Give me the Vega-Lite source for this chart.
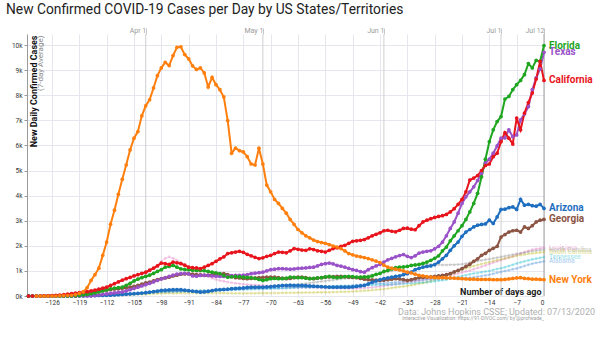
{
"$schema": "https://vega.github.io/schema/vega-lite/v6.json",
"width": 517, "height": 262,
"autosize": "none",
"padding": {"left": 27, "top": 34, "right": 56, "bottom": 50},
"background": "white",
"config": {"view": {"stroke": null}, "font": "Roboto"},
"title": {"text": "New Confirmed COVID-19 Cases per Day by US States/Territories", "anchor": "start", "frame": "group", "dx": -21, "fontSize": 13.8, "font": "Roboto", "fontWeight": "normal", "color": "#222", "offset": 9},
"datasets": {
"months": [{"d":-102,"m":"Apr 1"},{"d":-72,"m":"May 1"},{"d":-41,"m":"Jun 1"},{"d":-11,"m":"Jul 1"},{"d":0,"m":"Jul 12"}],
"names": [{"code":"AZ","name":"Arizona"},{"code":"NY","name":"New York"},{"code":"FL","name":"Florida"},{"code":"CA","name":"California"},{"code":"TX","name":"Texas"},{"code":"GA","name":"Georgia"},{"code":"LA","name":"Louisiana"},{"code":"NC","name":"North Carolina"},{"code":"SC","name":"South Carolina"},{"code":"TN","name":"Tennessee"},{"code":"AL","name":"Alabama"}],
"notes": [{"t":"Data: Johns Hopkins CSSE; Updated: 07/13/2020"}],
"notes2": [{"t":"Interactive Visualization: https://91-DIVOC.com/ by @profwade_"}],
"cases": [
{"d":-132,"AZ":0,"FL":0,"CA":0,"TX":0,"GA":0,"LA":0,"NC":0,"SC":0,"TN":0,"AL":0},
{"d":-131,"AZ":0,"FL":0,"CA":0,"TX":0,"GA":0,"LA":0,"NC":0,"SC":0,"TN":0,"AL":0},
{"d":-130,"AZ":0,"NY":0,"FL":0,"CA":0,"TX":0,"GA":0,"LA":0,"NC":0,"SC":0,"TN":0,"AL":0},
{"d":-129,"AZ":0,"NY":0,"FL":0,"CA":0,"TX":0,"GA":0,"LA":0,"NC":0,"SC":0,"TN":0,"AL":0},
{"d":-128,"AZ":0,"NY":0,"FL":0,"CA":10,"TX":0,"GA":0,"LA":0,"NC":0,"SC":0,"TN":0,"AL":0},
{"d":-127,"AZ":0,"NY":0,"FL":0,"CA":10,"TX":0,"GA":0,"LA":0,"NC":0,"SC":0,"TN":0,"AL":0},
{"d":-126,"AZ":0,"NY":0,"FL":0,"CA":20,"TX":0,"GA":0,"LA":0,"NC":0,"SC":0,"TN":0,"AL":0},
{"d":-125,"AZ":0,"NY":0,"FL":0,"CA":30,"TX":0,"GA":0,"LA":0,"NC":0,"SC":0,"TN":0,"AL":0},
{"d":-124,"AZ":0,"NY":10,"FL":0,"CA":40,"TX":0,"GA":0,"LA":0,"NC":0,"SC":0,"TN":0,"AL":0},
{"d":-123,"AZ":0,"NY":15,"FL":0,"CA":50,"TX":0,"GA":0,"LA":0,"NC":0,"SC":0,"TN":0,"AL":0},
{"d":-122,"AZ":0,"NY":20,"FL":0,"CA":70,"TX":0,"GA":0,"LA":0,"NC":0,"SC":0,"TN":0,"AL":0},
{"d":-121,"AZ":0,"NY":30,"FL":0,"CA":90,"TX":0,"GA":0,"LA":0,"NC":0,"SC":0,"TN":0,"AL":0},
{"d":-120,"AZ":5,"NY":50,"FL":10,"CA":110,"TX":0,"GA":0,"LA":10,"NC":5,"SC":0,"TN":0,"AL":0},
{"d":-119,"AZ":5,"NY":100,"FL":20,"CA":130,"TX":0,"GA":40,"LA":20,"NC":10,"SC":0,"TN":0,"AL":0},
{"d":-118,"AZ":10,"NY":160,"FL":40,"CA":150,"TX":0,"GA":90,"LA":30,"NC":15,"SC":0,"TN":0,"AL":0},
{"d":-117,"AZ":10,"NY":330,"FL":60,"CA":170,"TX":0,"GA":120,"LA":40,"NC":20,"SC":0,"TN":5,"AL":5},
{"d":-116,"AZ":15,"NY":620,"FL":90,"CA":200,"TX":0,"GA":150,"LA":50,"NC":25,"SC":5,"TN":5,"AL":5},
{"d":-115,"AZ":15,"NY":850,"FL":120,"CA":230,"TX":20,"GA":180,"LA":60,"NC":30,"SC":10,"TN":10,"AL":10},
{"d":-114,"AZ":20,"NY":1110,"FL":160,"CA":270,"TX":40,"GA":200,"LA":80,"NC":35,"SC":12,"TN":20,"AL":12},
{"d":-113,"AZ":20,"NY":1620,"FL":200,"CA":310,"TX":60,"GA":220,"LA":100,"NC":40,"SC":15,"TN":30,"AL":15},
{"d":-112,"AZ":25,"NY":2150,"FL":240,"CA":350,"TX":80,"GA":240,"LA":130,"NC":45,"SC":20,"TN":35,"AL":20},
{"d":-111,"AZ":30,"NY":2860,"FL":280,"CA":420,"TX":100,"GA":260,"LA":170,"NC":50,"SC":25,"TN":40,"AL":25},
{"d":-110,"AZ":40,"NY":3420,"FL":310,"CA":490,"TX":120,"GA":280,"LA":210,"NC":55,"SC":30,"TN":50,"AL":30},
{"d":-109,"AZ":50,"NY":4050,"FL":330,"CA":560,"TX":140,"GA":290,"LA":260,"NC":60,"SC":35,"TN":60,"AL":40},
{"d":-108,"AZ":60,"NY":4650,"FL":350,"CA":630,"TX":160,"GA":310,"LA":320,"NC":70,"SC":40,"TN":70,"AL":50},
{"d":-107,"AZ":70,"NY":5220,"FL":420,"CA":690,"TX":200,"GA":330,"LA":390,"NC":80,"SC":45,"TN":80,"AL":60},
{"d":-106,"AZ":80,"NY":5820,"FL":500,"CA":740,"TX":250,"GA":350,"LA":470,"NC":90,"SC":50,"TN":90,"AL":70},
{"d":-105,"AZ":90,"NY":6290,"FL":600,"CA":800,"TX":300,"GA":380,"LA":560,"NC":100,"SC":60,"TN":100,"AL":80},
{"d":-104,"AZ":100,"NY":6550,"FL":670,"CA":850,"TX":350,"GA":420,"LA":660,"NC":110,"SC":65,"TN":110,"AL":95},
{"d":-103,"AZ":115,"NY":7180,"FL":730,"CA":900,"TX":400,"GA":470,"LA":760,"NC":120,"SC":70,"TN":120,"AL":110},
{"d":-102,"AZ":130,"NY":7580,"FL":780,"CA":950,"TX":450,"GA":520,"LA":870,"NC":130,"SC":75,"TN":130,"AL":120},
{"d":-101,"AZ":150,"NY":7820,"FL":830,"CA":1030,"TX":500,"GA":550,"LA":980,"NC":140,"SC":80,"TN":140,"AL":135},
{"d":-100,"AZ":170,"NY":8290,"FL":900,"CA":1110,"TX":560,"GA":600,"LA":1100,"NC":150,"SC":90,"TN":150,"AL":150},
{"d":-99,"AZ":195,"NY":8780,"FL":980,"CA":1200,"TX":620,"GA":650,"LA":1230,"NC":150,"SC":95,"TN":160,"AL":160},
{"d":-98,"AZ":220,"NY":9090,"FL":1050,"CA":1310,"TX":680,"GA":690,"LA":1380,"NC":160,"SC":100,"TN":170,"AL":165},
{"d":-97,"AZ":230,"NY":9310,"FL":1150,"CA":1290,"TX":730,"GA":720,"LA":1500,"NC":160,"SC":105,"TN":175,"AL":170},
{"d":-96,"AZ":240,"NY":9180,"FL":1180,"CA":1260,"TX":780,"GA":750,"LA":1560,"NC":170,"SC":110,"TN":180,"AL":175},
{"d":-95,"AZ":250,"NY":9580,"FL":1220,"CA":1350,"TX":830,"GA":800,"LA":1500,"NC":170,"SC":110,"TN":185,"AL":180},
{"d":-94,"AZ":250,"NY":9910,"FL":1150,"CA":1320,"TX":870,"GA":830,"LA":1420,"NC":180,"SC":115,"TN":190,"AL":185},
{"d":-93,"AZ":250,"NY":9930,"FL":1080,"CA":1290,"TX":890,"GA":870,"LA":1340,"NC":180,"SC":115,"TN":195,"AL":190},
{"d":-92,"AZ":230,"NY":9620,"FL":1060,"CA":1230,"TX":900,"GA":880,"LA":1240,"NC":190,"SC":120,"TN":195,"AL":195},
{"d":-91,"AZ":210,"NY":9450,"FL":1050,"CA":1150,"TX":880,"GA":890,"LA":1150,"NC":190,"SC":120,"TN":200,"AL":200},
{"d":-90,"AZ":190,"NY":9170,"FL":1030,"CA":1130,"TX":800,"GA":870,"LA":1060,"NC":200,"SC":120,"TN":200,"AL":200},
{"d":-89,"AZ":170,"NY":9030,"FL":1020,"CA":1120,"TX":790,"GA":850,"LA":980,"NC":200,"SC":120,"TN":205,"AL":205},
{"d":-88,"AZ":150,"NY":9090,"FL":1020,"CA":1090,"TX":820,"GA":840,"LA":900,"NC":210,"SC":120,"TN":210,"AL":210},
{"d":-87,"AZ":160,"NY":8890,"FL":1010,"CA":1150,"TX":830,"GA":820,"LA":830,"NC":210,"SC":120,"TN":215,"AL":210},
{"d":-86,"AZ":180,"NY":8330,"FL":980,"CA":1220,"TX":820,"GA":830,"LA":770,"NC":220,"SC":120,"TN":220,"AL":215},
{"d":-85,"AZ":210,"NY":8710,"FL":950,"CA":1290,"TX":800,"GA":850,"LA":710,"NC":230,"SC":120,"TN":230,"AL":220},
{"d":-84,"AZ":240,"NY":8420,"FL":920,"CA":1380,"TX":790,"GA":870,"LA":660,"NC":240,"SC":120,"TN":235,"AL":225},
{"d":-83,"AZ":250,"NY":8220,"FL":890,"CA":1480,"TX":780,"GA":880,"LA":620,"NC":250,"SC":115,"TN":240,"AL":230},
{"d":-82,"AZ":260,"NY":7930,"FL":820,"CA":1560,"TX":780,"GA":890,"LA":590,"NC":260,"SC":115,"TN":245,"AL":240},
{"d":-81,"AZ":270,"NY":6990,"FL":750,"CA":1690,"TX":790,"GA":850,"LA":560,"NC":270,"SC":110,"TN":250,"AL":245},
{"d":-80,"AZ":290,"NY":5690,"FL":760,"CA":1720,"TX":810,"GA":780,"LA":530,"NC":280,"SC":110,"TN":250,"AL":250},
{"d":-79,"AZ":300,"NY":5890,"FL":780,"CA":1750,"TX":820,"GA":730,"LA":510,"NC":290,"SC":110,"TN":255,"AL":255},
{"d":-78,"AZ":310,"NY":5790,"FL":770,"CA":1780,"TX":820,"GA":720,"LA":490,"NC":300,"SC":110,"TN":260,"AL":260},
{"d":-77,"AZ":320,"NY":5740,"FL":750,"CA":1740,"TX":830,"GA":700,"LA":470,"NC":310,"SC":110,"TN":265,"AL":265},
{"d":-76,"AZ":340,"NY":5550,"FL":740,"CA":1660,"TX":850,"GA":690,"LA":460,"NC":320,"SC":110,"TN":275,"AL":275},
{"d":-75,"AZ":350,"NY":5260,"FL":730,"CA":1600,"TX":890,"GA":700,"LA":450,"NC":330,"SC":110,"TN":280,"AL":280},
{"d":-74,"AZ":350,"NY":5220,"FL":700,"CA":1540,"TX":910,"GA":720,"LA":440,"NC":340,"SC":110,"TN":285,"AL":285},
{"d":-73,"AZ":350,"NY":5890,"FL":660,"CA":1490,"TX":930,"GA":730,"LA":430,"NC":350,"SC":115,"TN":290,"AL":290},
{"d":-72,"AZ":350,"NY":5260,"FL":620,"CA":1520,"TX":950,"GA":740,"LA":420,"NC":360,"SC":115,"TN":290,"AL":290},
{"d":-71,"AZ":360,"NY":4420,"FL":650,"CA":1580,"TX":1000,"GA":750,"LA":410,"NC":370,"SC":115,"TN":295,"AL":295},
{"d":-70,"AZ":370,"NY":4150,"FL":690,"CA":1620,"TX":1050,"GA":750,"LA":400,"NC":380,"SC":120,"TN":300,"AL":300},
{"d":-69,"AZ":390,"NY":3850,"FL":700,"CA":1690,"TX":1070,"GA":750,"LA":400,"NC":390,"SC":120,"TN":305,"AL":305},
{"d":-68,"AZ":400,"NY":3690,"FL":690,"CA":1750,"TX":1090,"GA":730,"LA":390,"NC":400,"SC":120,"TN":310,"AL":310},
{"d":-67,"AZ":420,"NY":3490,"FL":690,"CA":1740,"TX":1090,"GA":710,"LA":380,"NC":410,"SC":125,"TN":315,"AL":315},
{"d":-66,"AZ":420,"NY":3300,"FL":710,"CA":1720,"TX":1080,"GA":690,"LA":370,"NC":420,"SC":125,"TN":320,"AL":320},
{"d":-65,"AZ":430,"NY":3050,"FL":750,"CA":1800,"TX":1070,"GA":700,"LA":360,"NC":430,"SC":130,"TN":330,"AL":330},
{"d":-64,"AZ":420,"NY":2850,"FL":740,"CA":1890,"TX":1080,"GA":730,"LA":360,"NC":440,"SC":130,"TN":335,"AL":335},
{"d":-63,"AZ":420,"NY":2650,"FL":730,"CA":1860,"TX":1100,"GA":750,"LA":350,"NC":460,"SC":135,"TN":340,"AL":340},
{"d":-62,"AZ":420,"NY":2520,"FL":730,"CA":1830,"TX":1110,"GA":750,"LA":350,"NC":480,"SC":135,"TN":345,"AL":345},
{"d":-61,"AZ":410,"NY":2400,"FL":710,"CA":1820,"TX":1120,"GA":730,"LA":340,"NC":500,"SC":140,"TN":345,"AL":345},
{"d":-60,"AZ":400,"NY":2320,"FL":690,"CA":1880,"TX":1140,"GA":700,"LA":340,"NC":520,"SC":140,"TN":350,"AL":350},
{"d":-59,"AZ":390,"NY":2230,"FL":700,"CA":1850,"TX":1150,"GA":690,"LA":340,"NC":540,"SC":140,"TN":355,"AL":355},
{"d":-58,"AZ":380,"NY":2170,"FL":720,"CA":1800,"TX":1200,"GA":710,"LA":330,"NC":560,"SC":145,"TN":360,"AL":360},
{"d":-57,"AZ":370,"NY":2130,"FL":730,"CA":1780,"TX":1260,"GA":730,"LA":330,"NC":580,"SC":145,"TN":365,"AL":365},
{"d":-56,"AZ":360,"NY":2100,"FL":760,"CA":1750,"TX":1290,"GA":750,"LA":320,"NC":600,"SC":150,"TN":370,"AL":370},
{"d":-55,"AZ":350,"NY":2050,"FL":780,"CA":1820,"TX":1310,"GA":760,"LA":320,"NC":620,"SC":150,"TN":380,"AL":380},
{"d":-54,"AZ":350,"NY":1990,"FL":750,"CA":1890,"TX":1280,"GA":770,"LA":320,"NC":640,"SC":155,"TN":385,"AL":385},
{"d":-53,"AZ":350,"NY":1950,"FL":730,"CA":1920,"TX":1220,"GA":780,"LA":310,"NC":660,"SC":160,"TN":390,"AL":390},
{"d":-52,"AZ":350,"NY":1890,"FL":750,"CA":1980,"TX":1190,"GA":780,"LA":310,"NC":680,"SC":165,"TN":395,"AL":395},
{"d":-51,"AZ":350,"NY":1800,"FL":770,"CA":2020,"TX":1150,"GA":770,"LA":300,"NC":700,"SC":165,"TN":400,"AL":400},
{"d":-50,"AZ":350,"NY":1690,"FL":780,"CA":2100,"TX":1100,"GA":750,"LA":300,"NC":720,"SC":170,"TN":400,"AL":400},
{"d":-49,"AZ":360,"NY":1640,"FL":770,"CA":2180,"TX":1050,"GA":740,"LA":300,"NC":740,"SC":180,"TN":405,"AL":420},
{"d":-48,"AZ":380,"NY":1590,"FL":750,"CA":2200,"TX":1020,"GA":730,"LA":300,"NC":760,"SC":190,"TN":410,"AL":440},
{"d":-47,"AZ":400,"NY":1560,"FL":750,"CA":2220,"TX":970,"GA":700,"LA":310,"NC":780,"SC":200,"TN":415,"AL":455},
{"d":-46,"AZ":420,"NY":1530,"FL":760,"CA":2250,"TX":950,"GA":670,"LA":320,"NC":800,"SC":210,"TN":420,"AL":470},
{"d":-45,"AZ":480,"NY":1490,"FL":760,"CA":2320,"TX":1050,"GA":650,"LA":330,"NC":820,"SC":220,"TN":430,"AL":480},
{"d":-44,"AZ":550,"NY":1440,"FL":800,"CA":2400,"TX":1130,"GA":640,"LA":340,"NC":850,"SC":235,"TN":435,"AL":490},
{"d":-43,"AZ":600,"NY":1390,"FL":860,"CA":2460,"TX":1200,"GA":630,"LA":360,"NC":880,"SC":250,"TN":440,"AL":500},
{"d":-42,"AZ":650,"NY":1330,"FL":900,"CA":2520,"TX":1260,"GA":620,"LA":380,"NC":910,"SC":265,"TN":445,"AL":505},
{"d":-41,"AZ":690,"NY":1230,"FL":980,"CA":2600,"TX":1350,"GA":630,"LA":400,"NC":940,"SC":280,"TN":450,"AL":510},
{"d":-40,"AZ":720,"NY":1150,"FL":1020,"CA":2620,"TX":1440,"GA":650,"LA":430,"NC":970,"SC":300,"TN":450,"AL":520},
{"d":-39,"AZ":750,"NY":1110,"FL":1080,"CA":2580,"TX":1500,"GA":670,"LA":450,"NC":1000,"SC":320,"TN":460,"AL":535},
{"d":-38,"AZ":780,"NY":1070,"FL":1130,"CA":2560,"TX":1560,"GA":690,"LA":470,"NC":1050,"SC":340,"TN":470,"AL":550},
{"d":-37,"AZ":800,"NY":1040,"FL":1150,"CA":2620,"TX":1610,"GA":680,"LA":500,"NC":1100,"SC":360,"TN":480,"AL":565},
{"d":-36,"AZ":850,"NY":1000,"FL":1160,"CA":2690,"TX":1650,"GA":650,"LA":520,"NC":1150,"SC":380,"TN":490,"AL":580},
{"d":-35,"AZ":890,"NY":950,"FL":1180,"CA":2700,"TX":1580,"GA":620,"LA":550,"NC":1180,"SC":400,"TN":500,"AL":600},
{"d":-34,"AZ":950,"NY":920,"FL":1220,"CA":2660,"TX":1530,"GA":650,"LA":570,"NC":1200,"SC":430,"TN":510,"AL":610},
{"d":-33,"AZ":1050,"NY":870,"FL":1240,"CA":2640,"TX":1600,"GA":690,"LA":590,"NC":1220,"SC":460,"TN":520,"AL":620},
{"d":-32,"AZ":1100,"NY":820,"FL":1260,"CA":2800,"TX":1710,"GA":730,"LA":610,"NC":1240,"SC":490,"TN":530,"AL":630},
{"d":-31,"AZ":1150,"NY":800,"FL":1300,"CA":2950,"TX":1750,"GA":740,"LA":640,"NC":1250,"SC":520,"TN":540,"AL":640},
{"d":-30,"AZ":1180,"NY":770,"FL":1350,"CA":3020,"TX":1780,"GA":750,"LA":660,"NC":1260,"SC":550,"TN":550,"AL":650},
{"d":-29,"AZ":1200,"NY":750,"FL":1420,"CA":3080,"TX":1800,"GA":760,"LA":690,"NC":1260,"SC":600,"TN":570,"AL":660},
{"d":-28,"AZ":1250,"NY":740,"FL":1500,"CA":3130,"TX":1880,"GA":780,"LA":720,"NC":1250,"SC":650,"TN":590,"AL":670},
{"d":-27,"AZ":1350,"NY":730,"FL":1600,"CA":3170,"TX":1980,"GA":800,"LA":740,"NC":1250,"SC":700,"TN":610,"AL":680},
{"d":-26,"AZ":1480,"NY":730,"FL":1800,"CA":3200,"TX":2150,"GA":820,"LA":770,"NC":1240,"SC":750,"TN":630,"AL":690},
{"d":-25,"AZ":1620,"NY":720,"FL":1950,"CA":3250,"TX":2400,"GA":850,"LA":800,"NC":1240,"SC":800,"TN":650,"AL":700},
{"d":-24,"AZ":1820,"NY":720,"FL":2200,"CA":3350,"TX":2690,"GA":890,"LA":830,"NC":1250,"SC":860,"TN":690,"AL":700},
{"d":-23,"AZ":2000,"NY":710,"FL":2400,"CA":3480,"TX":2950,"GA":960,"LA":860,"NC":1250,"SC":920,"TN":730,"AL":700},
{"d":-22,"AZ":2150,"NY":700,"FL":2600,"CA":3650,"TX":3300,"GA":1020,"LA":900,"NC":1260,"SC":990,"TN":770,"AL":700},
{"d":-21,"AZ":2380,"NY":690,"FL":2800,"CA":3850,"TX":3690,"GA":1090,"LA":940,"NC":1270,"SC":1050,"TN":800,"AL":700},
{"d":-20,"AZ":2550,"NY":680,"FL":3050,"CA":4150,"TX":3950,"GA":1180,"LA":980,"NC":1300,"SC":1100,"TN":830,"AL":715},
{"d":-19,"AZ":2650,"NY":670,"FL":3350,"CA":4620,"TX":4150,"GA":1260,"LA":1020,"NC":1330,"SC":1150,"TN":870,"AL":730},
{"d":-18,"AZ":2750,"NY":670,"FL":3690,"CA":4700,"TX":4350,"GA":1380,"LA":1070,"NC":1360,"SC":1200,"TN":900,"AL":750},
{"d":-17,"AZ":2820,"NY":660,"FL":4090,"CA":4800,"TX":4600,"GA":1480,"LA":1120,"NC":1390,"SC":1240,"TN":920,"AL":775},
{"d":-16,"AZ":2850,"NY":660,"FL":4750,"CA":5000,"TX":4890,"GA":1620,"LA":1170,"NC":1420,"SC":1280,"TN":950,"AL":800},
{"d":-15,"AZ":2870,"NY":660,"FL":5450,"CA":5200,"TX":5290,"GA":1700,"LA":1220,"NC":1450,"SC":1310,"TN":975,"AL":825},
{"d":-14,"AZ":3020,"NY":660,"FL":6150,"CA":5260,"TX":5450,"GA":1820,"LA":1280,"NC":1470,"SC":1350,"TN":1000,"AL":850},
{"d":-13,"AZ":2890,"NY":650,"FL":6620,"CA":5550,"TX":5690,"GA":1900,"LA":1330,"NC":1500,"SC":1390,"TN":1040,"AL":890},
{"d":-12,"AZ":3150,"NY":650,"FL":6950,"CA":5690,"TX":5980,"GA":1980,"LA":1380,"NC":1530,"SC":1430,"TN":1080,"AL":930},
{"d":-11,"AZ":3450,"NY":650,"FL":7150,"CA":6150,"TX":6290,"GA":2350,"LA":1430,"NC":1560,"SC":1460,"TN":1110,"AL":960},
{"d":-10,"AZ":3460,"NY":660,"FL":7850,"CA":6510,"TX":6300,"GA":2450,"LA":1480,"NC":1590,"SC":1500,"TN":1150,"AL":1000},
{"d":-9,"AZ":3520,"NY":680,"FL":7950,"CA":6290,"TX":6620,"GA":2550,"LA":1530,"NC":1620,"SC":1530,"TN":1200,"AL":1030},
{"d":-8,"AZ":3550,"NY":700,"FL":8220,"CA":6060,"TX":6350,"GA":2600,"LA":1580,"NC":1650,"SC":1570,"TN":1250,"AL":1070},
{"d":-7,"AZ":3450,"NY":720,"FL":8420,"CA":7090,"TX":6420,"GA":2620,"LA":1640,"NC":1680,"SC":1600,"TN":1300,"AL":1100},
{"d":-6,"AZ":3850,"NY":730,"FL":8590,"CA":6620,"TX":7020,"GA":2550,"LA":1700,"NC":1700,"SC":1630,"TN":1340,"AL":1150},
{"d":-5,"AZ":3620,"NY":700,"FL":8820,"CA":7290,"TX":7250,"GA":2750,"LA":1750,"NC":1730,"SC":1650,"TN":1380,"AL":1200},
{"d":-4,"AZ":3650,"NY":690,"FL":9260,"CA":7710,"TX":7550,"GA":2690,"LA":1800,"NC":1760,"SC":1680,"TN":1420,"AL":1250},
{"d":-3,"AZ":3600,"NY":670,"FL":9090,"CA":8090,"TX":8220,"GA":2800,"LA":1850,"NC":1790,"SC":1700,"TN":1460,"AL":1290},
{"d":-2,"AZ":3580,"NY":670,"FL":9390,"CA":8650,"TX":8690,"GA":2950,"LA":1880,"NC":1810,"SC":1720,"TN":1490,"AL":1320},
{"d":-1,"AZ":3650,"NY":660,"FL":9350,"CA":9350,"TX":9050,"GA":3020,"LA":1900,"NC":1830,"SC":1735,"TN":1520,"AL":1350},
{"d":0,"AZ":3490,"NY":650,"FL":9980,"CA":8590,"TX":9710,"GA":3050,"LA":1930,"NC":1850,"SC":1750,"TN":1550,"AL":1380}
]},
"resolve": {"axis": {"x": "independent", "y": "independent"}},
"layer": [
{"data": {"name": "months"},
 "mark": {"type": "rule", "strokeWidth": 1},
 "encoding": {
  "x": {"field": "d", "type": "quantitative", "scale": {"domain": [-132.4, 0], "nice": false, "zero": false},
   "axis": {"orient": "top", "values": [-102, -72, -41, -11, 0], "labelExpr": "datum.value == -102 ? 'Apr 1' : datum.value == -72 ? 'May 1' : datum.value == -41 ? 'Jun 1' : datum.value == -11 ? 'Jul 1' : 'Jul 12'", "grid": false, "domain": false, "ticks": true, "tickSize": 6, "tickColor": "#c8c8c8", "labelAlign": "right", "labelBaseline": "bottom", "labelPadding": -5, "labelDx": -2, "labelFontSize": 7, "labelColor": "#9a9a9a", "labelOverlap": false, "title": null}},
  "color": {"condition": {"test": "datum.d == 0", "value": "#a0a0a0"}, "value": "#cfcfcf"}
 }},
{"data": {"name": "cases"},
 "transform": [{"fold": ["LA","NC","SC","TN","AL"], "as": ["state","v"]}, {"filter": "isValid(datum.v)"}],
 "mark": {"type": "line", "strokeWidth": 1.2, "opacity": 0.3},
 "encoding": {
  "x": {"field": "d", "type": "quantitative", "scale": {"domain": [-132.4, 0], "nice": false, "zero": false}, "axis": null},
  "y": {"field": "v", "type": "quantitative", "scale": {"domain": [0, 10440], "nice": false},
   "axis": {"orient": "right", "labels": false, "ticks": false, "domain": false, "grid": false, "title": "(7-day Average)", "titleX": -502, "titleY": 1, "titleAngle": 270, "titleAlign": "right", "titleBaseline": "alphabetic", "titleColor": "#8a8a8a", "titleFontSize": 8, "titleFontWeight": "normal", "titleFont": "Roboto"}},
  "color": {"field": "state", "type": "nominal", "legend": null,
   "scale": {"domain": ["AZ","NY","FL","CA","TX","GA","LA","NC","SC","TN","AL"], "range": ["#1f6fc0","#ff7f0e","#1fa51f","#e8141c","#9a52c8","#8c5443","#e377c2","#8f8f8f","#bcbd22","#17becf","#4a90d9"]}}
 }},
{"data": {"name": "cases"},
 "transform": [{"fold": ["LA","NC","SC","TN","AL"], "as": ["state","v"]}, {"filter": "isValid(datum.v)"}],
 "mark": {"type": "circle", "size": 9, "opacity": 0.3},
 "encoding": {
  "x": {"field": "d", "type": "quantitative", "scale": {"domain": [-132.4, 0], "nice": false, "zero": false}, "axis": null},
  "y": {"field": "v", "type": "quantitative", "scale": {"domain": [0, 10440], "nice": false}, "axis": null},
  "color": {"field": "state", "type": "nominal", "legend": null}
 }},
{"data": {"name": "cases"},
 "transform": [{"fold": ["GA","AZ","TX","FL","CA","NY"], "as": ["state","v"]}, {"filter": "isValid(datum.v)"}],
 "mark": {"type": "line", "strokeWidth": 2},
 "encoding": {
  "x": {"field": "d", "type": "quantitative", "scale": {"domain": [-132.4, 0], "nice": false, "zero": false},
   "axis": {"orient": "bottom", "values": [-126,-119,-112,-105,-98,-91,-84,-77,-70,-63,-56,-49,-42,-35,-28,-21,-14,-7,0], "labelOverlap": false, "grid": true, "gridColor": "#e6e6ee", "ticks": false, "domain": false, "labelFontSize": 6.5, "labelColor": "#333", "labelPadding": 3, "labelFont": "Roboto",
    "title": "Number of days ago", "titleX": 514, "titleY": -2, "titleAlign": "right", "titleBaseline": "alphabetic", "titleFontSize": 9, "titleFontWeight": "bold", "titleColor": "#1a1a1a", "titleFont": "Roboto"}},
  "y": {"field": "v", "type": "quantitative", "scale": {"domain": [0, 10440], "nice": false},
   "axis": {"orient": "left", "values": [0,1000,2000,3000,4000,5000,6000,7000,8000,9000,10000], "format": "~s", "grid": true, "gridColor": "#e6e6ee", "tickSize": 3, "tickColor": "#999", "domainColor": "#9a9a9a", "labelFontSize": 6.5, "labelColor": "#333", "labelPadding": 2, "labelFont": "Roboto",
    "title": "New Daily Confirmed Cases", "titleX": 9, "titleY": 1, "titleAngle": 270, "titleAlign": "right", "titleBaseline": "alphabetic", "titleFontSize": 9, "titleFontWeight": "bold", "titleColor": "#111", "titleFont": "Roboto"}},
  "color": {"field": "state", "type": "nominal", "legend": null}
 }},
{"data": {"name": "cases"},
 "transform": [{"fold": ["GA","AZ","TX","FL","CA","NY"], "as": ["state","v"]}, {"filter": "isValid(datum.v)"}],
 "mark": {"type": "circle", "size": 14, "opacity": 1},
 "encoding": {
  "x": {"field": "d", "type": "quantitative", "scale": {"domain": [-132.4, 0], "nice": false, "zero": false}, "axis": null},
  "y": {"field": "v", "type": "quantitative", "scale": {"domain": [0, 10440], "nice": false}, "axis": null},
  "color": {"field": "state", "type": "nominal", "legend": null}
 }},
{"data": {"name": "cases"},
 "transform": [{"filter": "datum.d == 0"}, {"fold": ["LA","NC","SC","TN","AL"], "as": ["state","v"]}, {"lookup": "state", "from": {"data": {"name": "names"}, "key": "code", "fields": ["name"]}}],
 "mark": {"type": "text", "align": "left", "baseline": "middle", "dx": 5, "fontSize": 6.5, "fontWeight": "bold", "opacity": 0.35, "font": "Roboto"},
 "encoding": {
  "x": {"field": "d", "type": "quantitative", "scale": {"domain": [-132.4, 0], "nice": false, "zero": false}, "axis": null},
  "y": {"field": "v", "type": "quantitative", "scale": {"domain": [0, 10440], "nice": false}, "axis": null},
  "text": {"field": "name"},
  "color": {"field": "state", "type": "nominal", "legend": null}
 }},
{"data": {"name": "cases"},
 "transform": [{"filter": "datum.d == 0"}, {"fold": ["GA","AZ","TX","FL","CA","NY"], "as": ["state","v"]}, {"lookup": "state", "from": {"data": {"name": "names"}, "key": "code", "fields": ["name"]}}],
 "mark": {"type": "text", "align": "left", "baseline": "middle", "dx": 5, "fontSize": 10, "fontWeight": "bold", "font": "Roboto"},
 "encoding": {
  "x": {"field": "d", "type": "quantitative", "scale": {"domain": [-132.4, 0], "nice": false, "zero": false}, "axis": null},
  "y": {"field": "v", "type": "quantitative", "scale": {"domain": [0, 10440], "nice": false}, "axis": null},
  "text": {"field": "name"},
  "color": {"field": "state", "type": "nominal", "legend": null}
 }},
{"data": {"name": "notes"},
 "mark": {"type": "text", "align": "right", "baseline": "middle", "dx": 51, "dy": 16, "fontSize": 9, "color": "#b0b0b0", "font": "Roboto"},
 "encoding": {
  "x": {"datum": 0, "type": "quantitative", "scale": {"domain": [-132.4, 0], "nice": false, "zero": false}, "axis": null},
  "y": {"datum": 0, "type": "quantitative", "scale": {"domain": [0, 10440], "nice": false}, "axis": null},
  "text": {"field": "t"}
 }},
{"data": {"name": "notes2"},
 "mark": {"type": "text", "align": "right", "baseline": "middle", "dx": 0, "dy": 22, "fontSize": 5, "color": "#a0a0a0", "font": "Roboto"},
 "encoding": {
  "x": {"datum": 0, "type": "quantitative", "scale": {"domain": [-132.4, 0], "nice": false, "zero": false}, "axis": null},
  "y": {"datum": 0, "type": "quantitative", "scale": {"domain": [0, 10440], "nice": false}, "axis": null},
  "text": {"field": "t"}
 }}
]
}
